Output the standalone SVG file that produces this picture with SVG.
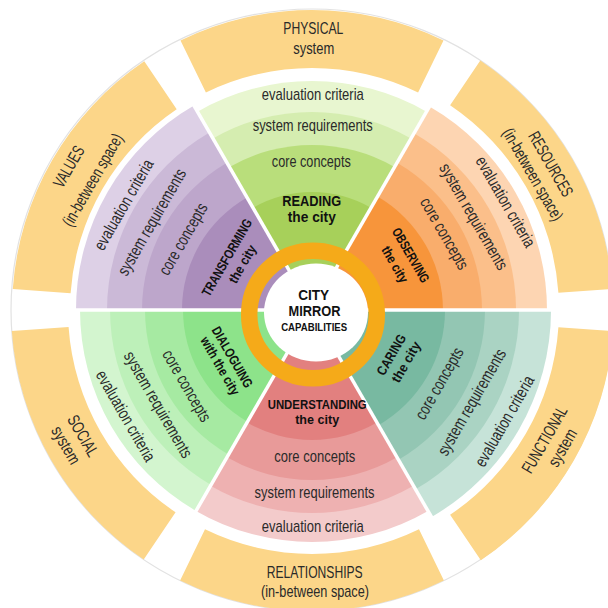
<svg xmlns="http://www.w3.org/2000/svg" width="608" height="608" viewBox="0 0 608 608">
<style>
text{font-family:"Liberation Sans Narrow","Liberation Sans",Arial,sans-serif;text-anchor:middle;}
.o{font-size:17px;fill:#2a2a2a;}
.s{font-size:17px;fill:#2a2a2a;}
.t{font-family:"Liberation Sans",Arial,sans-serif;font-size:13.5px;font-weight:bold;fill:#111;}
.c{font-family:"Liberation Sans",Arial,sans-serif;font-weight:bold;fill:#111;}
.band{fill:#fcd689;}
</style>
<rect width="608" height="608" fill="#ffffff"/>
<circle cx="312" cy="310" r="301" fill="none" stroke="#e2e2e2" stroke-width="1.2"/>

<g id="band-physical">
<path class="band" d="M180.5,40.4 A300,300 0 0 1 443.5,40.4 L418.1,92.5 A242,242 0 0 0 205.9,92.5 Z"/>
<text class="o" x="313.3" y="34" textLength="60" lengthAdjust="spacingAndGlyphs">PHYSICAL</text>
<text class="o" x="313.7" y="53.6" textLength="41" lengthAdjust="spacingAndGlyphs">system</text>
</g>
<g id="band-resources">
<path class="band" transform="rotate(60 312 310)" d="M180.1,39.5 A301,301 0 0 1 443.9,39.5 L420.3,88 A247,247 0 0 0 203.7,88 Z"/>
<g transform="rotate(60 312 310)">
<text class="o" x="305" y="36" textLength="72" lengthAdjust="spacingAndGlyphs">RESOURCES</text>
<text class="o" x="305" y="56.7" textLength="104" lengthAdjust="spacingAndGlyphs">(in-between space)</text>
</g>
</g>
<g id="band-functional">
<path class="band" transform="rotate(120 312 310)" d="M179.6,38.6 A302,302 0 0 1 444.4,38.6 L420.3,88 A247,247 0 0 0 203.7,88 Z"/>
<g transform="rotate(-60 312 310)">
<text class="o" x="316" y="582" textLength="74" lengthAdjust="spacingAndGlyphs">FUNCTIONAL</text>
<text class="o" x="318" y="601.5" textLength="41" lengthAdjust="spacingAndGlyphs">system</text>
</g>
</g>
<g id="band-relationships">
<path class="band" transform="rotate(180 312 310)" d="M180.1,39.5 A301,301 0 0 1 443.9,39.5 L419,90.7 A244,244 0 0 0 205,90.7 Z"/>
<text class="o" x="314.7" y="577.5" textLength="96" lengthAdjust="spacingAndGlyphs">RELATIONSHIPS</text>
<text class="o" x="315" y="597.2" textLength="108" lengthAdjust="spacingAndGlyphs">(in-between space)</text>
</g>
<g id="band-social">
<path class="band" transform="rotate(240 312 310)" d="M180.1,39.5 A301,301 0 0 1 443.9,39.5 L419,90.7 A244,244 0 0 0 205,90.7 Z"/>
<g transform="rotate(60 312 310)">
<text class="o" x="306.5" y="577" textLength="45" lengthAdjust="spacingAndGlyphs">SOCIAL</text>
<text class="o" x="306" y="596.5" textLength="41" lengthAdjust="spacingAndGlyphs">system</text>
</g>
</g>
<g id="band-values">
<path class="band" transform="rotate(300 312 310)" d="M180.5,40.4 A300,300 0 0 1 443.5,40.4 L418.1,92.5 A242,242 0 0 0 205.9,92.5 Z"/>
<g transform="rotate(-60 312 310)">
<text class="o" x="314.5" y="33.5" textLength="45" lengthAdjust="spacingAndGlyphs">VALUES</text>
<text class="o" x="315" y="60.7" textLength="104" lengthAdjust="spacingAndGlyphs">(in-between space)</text>
</g>
</g>

<g id="sector-reading">
<g>
<path fill="#e8f6d0" d="M312,310 L197.5,111.7 A229,229 0 0 1 426.5,111.7 Z"/>
<path fill="#d5edb0" d="M312,310 L213,138.5 A198,198 0 0 1 411,138.5 Z"/>
<path fill="#b9de7b" d="M312,310 L229.5,167.1 A165,165 0 0 1 394.5,167.1 Z"/>
<path fill="#a7d05a" d="M312,310 L253,207.8 A118,118 0 0 1 371,207.8 Z"/>
</g>
</g>
<g id="sector-observing">
<g transform="rotate(60 312 310)">
<path fill="#fdd5b2" d="M312,310 L194.5,106.5 A235,235 0 0 1 429.5,106.5 Z"/>
<path fill="#fbbf8a" d="M312,310 L210,133.3 A204,204 0 0 1 414,133.3 Z"/>
<path fill="#f9ad6c" d="M312,310 L227,162.8 A170,170 0 0 1 397,162.8 Z"/>
<path fill="#f7953b" d="M312,310 L246.5,196.6 A131,131 0 0 1 377.5,196.6 Z"/>
</g>
</g>
<g id="sector-caring">
<g transform="rotate(120 312 310)">
<path fill="#c6e3d8" d="M312,310 L192.5,103 A239,239 0 0 1 431.5,103 Z"/>
<path fill="#aad3c3" d="M312,310 L208.5,130.7 A207,207 0 0 1 415.5,130.7 Z"/>
<path fill="#93c6b3" d="M312,310 L225.5,160.2 A173,173 0 0 1 398.5,160.2 Z"/>
<path fill="#78b9a1" d="M312,310 L245.5,194.8 A133,133 0 0 1 378.5,194.8 Z"/>
</g>
</g>
<g id="sector-understanding">
<g transform="rotate(180 312 310)">
<path fill="#f3cbcb" d="M312,310 L196,109.1 A232,232 0 0 1 428,109.1 Z"/>
<path fill="#eeb1b1" d="M312,310 L210.5,134.2 A203,203 0 0 1 413.5,134.2 Z"/>
<path fill="#e89a99" d="M312,310 L227,162.8 A170,170 0 0 1 397,162.8 Z"/>
<path fill="#e2807f" d="M312,310 L247,197.4 A130,130 0 0 1 377,197.4 Z"/>
</g>
</g>
<g id="sector-dialoguing">
<g transform="rotate(240 312 310)">
<path fill="#d3f5cf" d="M312,310 L196,109.1 A232,232 0 0 1 428,109.1 Z"/>
<path fill="#bdf0b9" d="M312,310 L211,135.1 A202,202 0 0 1 413,135.1 Z"/>
<path fill="#a6eaa2" d="M312,310 L228.5,165.4 A167,167 0 0 1 395.5,165.4 Z"/>
<path fill="#8de38a" d="M312,310 L247.5,198.3 A129,129 0 0 1 376.5,198.3 Z"/>
</g>
</g>
<g id="sector-transforming">
<g transform="rotate(300 312 310)">
<path fill="#ddd0e6" d="M312,310 L194,105.6 A236,236 0 0 1 430,105.6 Z"/>
<path fill="#cbb9d7" d="M312,310 L209.5,132.5 A205,205 0 0 1 414.5,132.5 Z"/>
<path fill="#bda6cb" d="M312,310 L227,162.8 A170,170 0 0 1 397,162.8 Z"/>
<path fill="#aa8dbb" d="M312,310 L247,197.4 A130,130 0 0 1 377,197.4 Z"/>
</g>
</g>

<g id="dividers" stroke="#ffffff" stroke-width="3.5">
<line x1="312" y1="310" x2="434.5" y2="97.8"/>
<line x1="312" y1="310" x2="557" y2="310"/>
<line x1="312" y1="310" x2="434.5" y2="522.2"/>
<line x1="312" y1="310" x2="189.5" y2="522.2"/>
<line x1="312" y1="310" x2="67" y2="310"/>
<line x1="312" y1="310" x2="189.5" y2="97.8"/>
</g>

<g id="labels-reading">
<text class="s" x="312.8" y="100" textLength="102" lengthAdjust="spacingAndGlyphs">evaluation criteria</text>
<text class="s" x="312.7" y="130.7" textLength="120" lengthAdjust="spacingAndGlyphs">system requirements</text>
<text class="s" x="311.3" y="166.7" textLength="79" lengthAdjust="spacingAndGlyphs">core concepts</text>
<text class="t" style="font-size:15px" x="311.7" y="206" textLength="59" lengthAdjust="spacingAndGlyphs">READING</text>
<text class="t" style="font-size:15px" x="311.8" y="221.7" textLength="48" lengthAdjust="spacingAndGlyphs">the city</text>
</g>
<g id="labels-observing" transform="rotate(60 312 310)">
<text class="s" x="315" y="94" textLength="102" lengthAdjust="spacingAndGlyphs">evaluation criteria</text>
<text class="s" x="312" y="129" textLength="120" lengthAdjust="spacingAndGlyphs">system requirements</text>
<text class="s" x="312" y="162.7" textLength="80" lengthAdjust="spacingAndGlyphs">core concepts</text>
<text class="t" x="314" y="201.7" textLength="61" lengthAdjust="spacingAndGlyphs">OBSERVING</text>
<text class="t" x="314" y="220" textLength="40" lengthAdjust="spacingAndGlyphs">the city</text>
</g>
<g id="labels-caring" transform="rotate(-60 312 310)">
<text class="t" x="313" y="405.7" textLength="45" lengthAdjust="spacingAndGlyphs">CARING</text>
<text class="t" x="314" y="422.1" textLength="45" lengthAdjust="spacingAndGlyphs">the city</text>
<text class="s" x="312" y="462.7" textLength="80" lengthAdjust="spacingAndGlyphs">core concepts</text>
<text class="s" x="312" y="500.1" textLength="120" lengthAdjust="spacingAndGlyphs">system requirements</text>
<text class="s" x="312" y="538" textLength="102" lengthAdjust="spacingAndGlyphs">evaluation criteria</text>
</g>
<g id="labels-understanding">
<text class="t" x="317.2" y="409" textLength="99" lengthAdjust="spacingAndGlyphs">UNDERSTANDING</text>
<text class="t" x="317.2" y="424.3" textLength="44" lengthAdjust="spacingAndGlyphs">the city</text>
<text class="s" x="314.8" y="461.7" textLength="81" lengthAdjust="spacingAndGlyphs">core concepts</text>
<text class="s" x="314.5" y="498.3" textLength="120" lengthAdjust="spacingAndGlyphs">system requirements</text>
<text class="s" x="312.8" y="532" textLength="102" lengthAdjust="spacingAndGlyphs">evaluation criteria</text>
</g>
<g id="labels-dialoguing" transform="rotate(60 312 310)">
<text class="t" x="313" y="407.2" textLength="68" lengthAdjust="spacingAndGlyphs">DIALOGUING</text>
<text class="t" x="314.5" y="422.1" textLength="65" lengthAdjust="spacingAndGlyphs">with the city</text>
<text class="s" x="315" y="462" textLength="80" lengthAdjust="spacingAndGlyphs">core concepts</text>
<text class="s" x="317" y="496.3" textLength="120" lengthAdjust="spacingAndGlyphs">system requirements</text>
<text class="s" x="310.5" y="530.1" textLength="102" lengthAdjust="spacingAndGlyphs">evaluation criteria</text>
</g>
<g id="labels-transforming" transform="rotate(-60 312 310)">
<text class="s" x="309" y="100" textLength="102" lengthAdjust="spacingAndGlyphs">evaluation criteria</text>
<text class="s" x="308" y="133" textLength="120" lengthAdjust="spacingAndGlyphs">system requirements</text>
<text class="s" x="309" y="168.7" textLength="80" lengthAdjust="spacingAndGlyphs">core concepts</text>
<text class="t" x="315" y="214.7" textLength="87" lengthAdjust="spacingAndGlyphs">TRANSFORMING</text>
<text class="t" x="317" y="231.4" textLength="42" lengthAdjust="spacingAndGlyphs">the city</text>
</g>

<g id="center">
<circle cx="313" cy="314.5" r="63.8" fill="none" stroke="#f5aa19" stroke-width="16.5"/>
<ellipse cx="316" cy="312.5" rx="52" ry="49" fill="#ffffff"/>
<text class="c" style="font-size:14px" x="313.7" y="299.7" textLength="31" lengthAdjust="spacingAndGlyphs">CITY</text>
<text class="c" style="font-size:14px" x="314.5" y="316.3" textLength="52" lengthAdjust="spacingAndGlyphs">MIRROR</text>
<text class="c" style="font-size:10px" x="314.2" y="331.3" textLength="66" lengthAdjust="spacingAndGlyphs">CAPABILITIES</text>
</g>
</svg>
